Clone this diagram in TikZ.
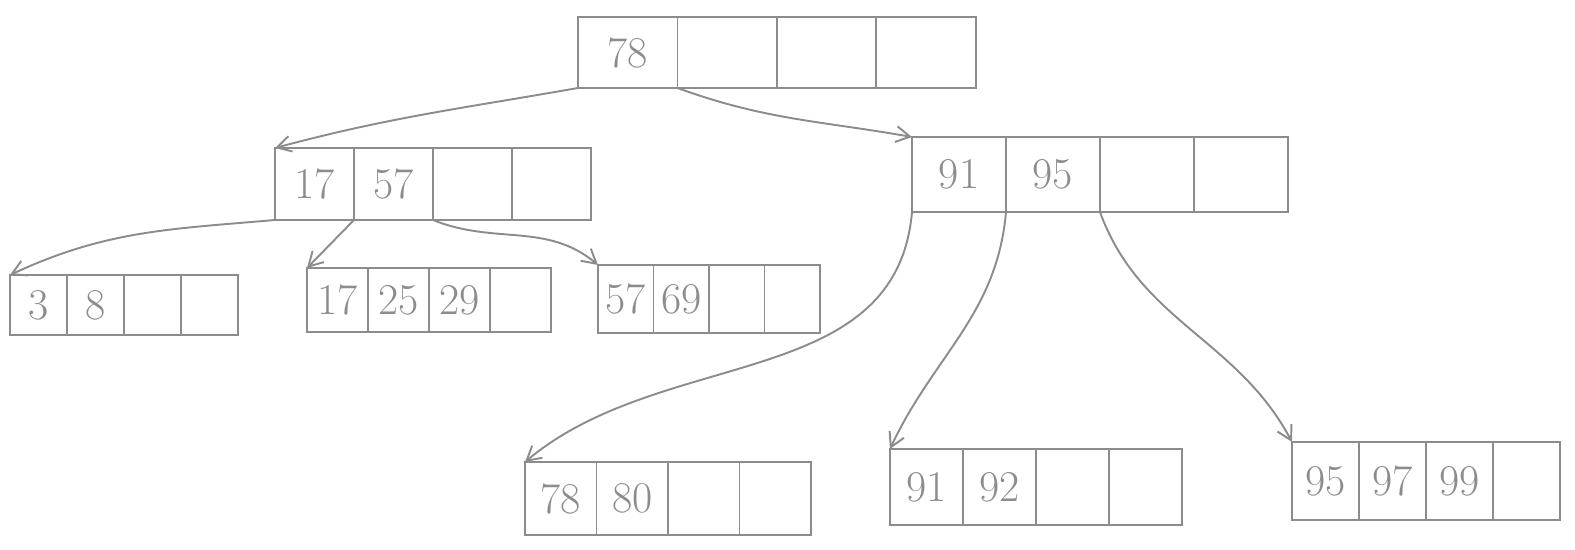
\documentclass[tikz,border=0pt]{standalone}
\usepackage{tikz}
\usetikzlibrary{positioning, arrows.meta, calc}
\definecolor{pencil}{gray}{0.55}

% one node of the tree: four cells side by side
% #1 name, #2 x, #3 y (top left, px), #4 cell width, #5 height, #6-#9 keys
\newcommand{\keynode}[9]{%
  \node[cell, minimum width=#4, minimum height=#5, anchor=north west] (#1-1) at (#2,#3) {#6};
  \node[cell, minimum width=#4, minimum height=#5, right=0pt of #1-1] (#1-2) {#7};
  \node[cell, minimum width=#4, minimum height=#5, right=0pt of #1-2] (#1-3) {#8};
  \node[cell, minimum width=#4, minimum height=#5, right=0pt of #1-3] (#1-4) {#9};
}

\begin{document}
\begin{tikzpicture}[
  x=0.02cm, y=-0.02cm,
  cell/.style={rectangle, draw=pencil, line width=1.1pt, inner sep=0pt, outer sep=0pt,
    text=pencil, font=\fontsize{25}{29}\selectfont},
  arr/.style={-{Straight Barb[length=8pt, width=9pt]}, draw=pencil, line width=1.1pt}
]
\useasboundingbox (0,0) rectangle (1575,550);

% root
\keynode{root}{578}{17}{1.99cm}{1.42cm}{78}{}{}{}
% inner nodes
\keynode{left}{275}{148}{1.58cm}{1.44cm}{17}{57}{}{}
\keynode{right}{912}{137}{1.88cm}{1.50cm}{91}{95}{}{}
% leaves
\keynode{la}{10}{275}{1.14cm}{1.20cm}{3}{8}{}{}
\keynode{lb}{307}{268}{1.22cm}{1.28cm}{17}{25}{29}{}
\keynode{lc}{598}{265}{1.11cm}{1.36cm}{57}{69}{}{}
\keynode{ld}{525}{462}{1.43cm}{1.46cm}{78}{80}{}{}
\keynode{le}{890}{449}{1.46cm}{1.52cm}{91}{92}{}{}
\keynode{lf}{1292}{442}{1.34cm}{1.56cm}{95}{97}{99}{}

% pointers
\draw[arr] (root-1.south west) to[out=190, in=15] (left-1.north west);
\draw[arr] (root-2.south west) to[out=-20, in=170] (right-1.north west);
\draw[arr] (left-1.south west) to[out=185, in=25] (la-1.north west);
\draw[arr] (left-2.south west) -- (lb-1.north west);
\draw[arr] (left-3.south west) to[out=-22, in=140] (lc-1.north west);
\draw[arr] (right-1.south west) to[out=-95, in=40] (ld-1.north west);
\draw[arr] (right-2.south west) to[out=-95, in=65] (le-1.north west);
\draw[arr] (right-3.south west) to[out=-70, in=118] (lf-1.north west);
\end{tikzpicture}
\end{document}
